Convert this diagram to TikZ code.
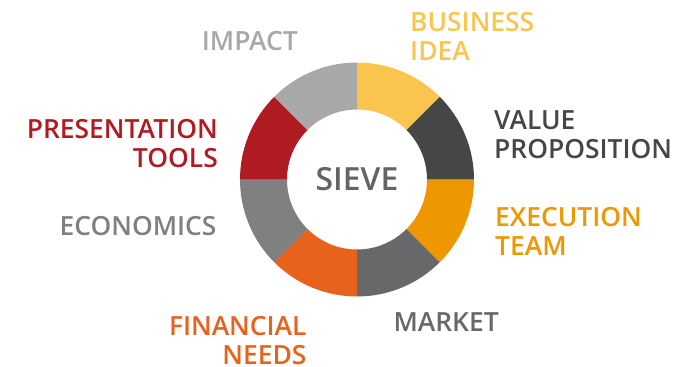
\documentclass[tikz,border=0pt]{standalone}
\usepackage{fontspec}
\setmainfont{Open Sans}
\newfontfamily\semifont{Open Sans Semibold}
\usetikzlibrary{positioning}

\definecolor{ideacol}{HTML}{F9C54E}
\definecolor{valuecol}{HTML}{464646}
\definecolor{teamcol}{HTML}{EE9700}
\definecolor{marketcol}{HTML}{67686A}
\definecolor{needscol}{HTML}{E8621C}
\definecolor{econcol}{HTML}{808080}
\definecolor{toolscol}{HTML}{B01B22}
\definecolor{impactcol}{HTML}{A8A8A8}
\definecolor{sievecol}{HTML}{646464}

\begin{document}
\begin{tikzpicture}
	[x=1bp, y=1bp,
	lbl/.style={inner sep=0pt, font=\semifont\fontsize{26.5}{29}\selectfont},
	lblL/.style={lbl, anchor=base west, align=left},
	lblR/.style={lbl, anchor=base east, align=right}]
	
	\useasboundingbox (-357,-186.5) rectangle (331,179.5);
	
	% ring
	\foreach \a/\col in {90/ideacol, 45/valuecol, 0/teamcol, -45/marketcol,
		-90/needscol, -135/econcol, -180/toolscol, -225/impactcol}
		\fill[\col] (\a:117) arc[start angle=\a, delta angle=-45, radius=117]
			-- (\a-45:70) arc[start angle=\a-45, delta angle=45, radius=70] -- cycle;
	
	% nodes (base = last line)
	\node [font=\semifont\fontsize{32}{36}\selectfont, text=sievecol] (sieve) at (0,0) {SIEVE};
	\node [lblL, text=ideacol]   (idea)   at (53,118.8)   {BUSINESS\\IDEA};
	\node [lblR, text=impactcol] (impact) at (-59,129)    {IMPACT};
	\node [lblL, text=valuecol]  (value)  at (137,21.2)   {VALUE\\PROPOSITION};
	\node [lblR, text=toolscol]  (tools)  at (-139,12.2)  {PRESENTATION\\TOOLS};
	\node [lblL, text=teamcol]   (team)   at (138,-76.2)  {EXECUTION\\TEAM};
	\node [lblR, text=econcol]   (econ)   at (-140.3,-55.5) {ECONOMICS};
	\node [lblR, text=needscol]  (needs)  at (-50.3,-184.5) {FINANCIAL\\NEEDS};
	\node [lblL, text=marketcol] (market) at (36.3,-152.2) {MARKET};
\end{tikzpicture}
\end{document}
